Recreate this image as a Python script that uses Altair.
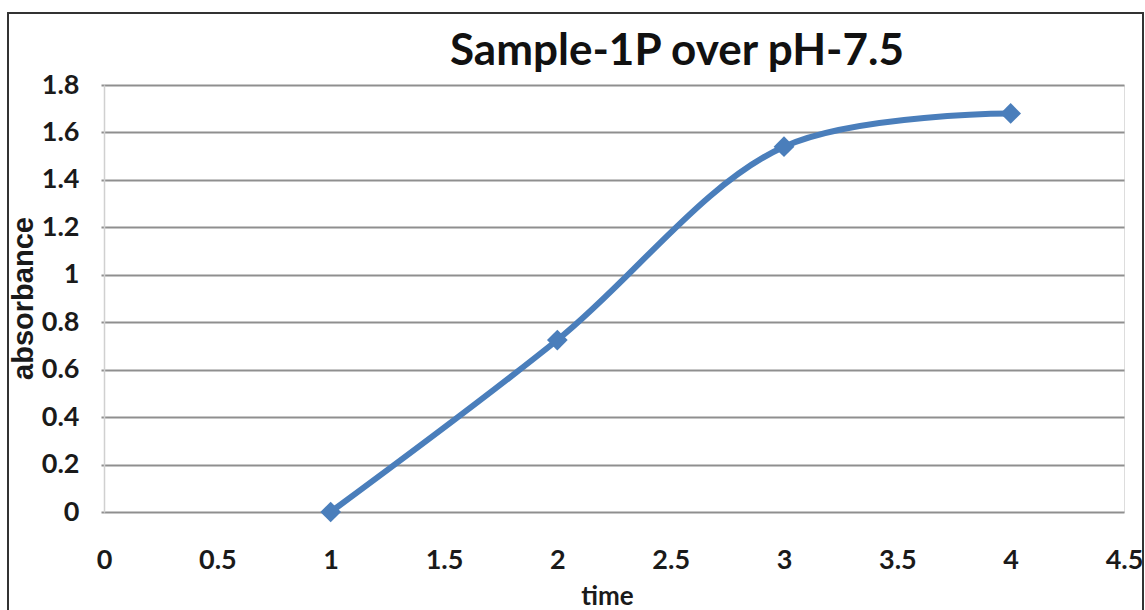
import altair as alt
import pandas as pd

# Absorbance readings of sample 1P at pH 7.5
time = [1, 2, 3, 4]
absorbance = [0.0, 0.725, 1.54, 1.68]

df = pd.DataFrame({"time": time, "absorbance": absorbance})

FONT = "Lato, Open Sans, sans-serif"
BLUE = "#4a7ebb"
W, H = 1020, 427

x = alt.X(
    "time:Q",
    scale=alt.Scale(domain=[0, 4.5], nice=False),
    axis=alt.Axis(
        title="time",
        values=[0, 0.5, 1, 1.5, 2, 2.5, 3, 3.5, 4, 4.5],
        labelExpr="format(datum.value, '~g')",
        grid=False,
        ticks=False,
        domain=False,
        labelFont=FONT,
        labelFontSize=27,
        labelFontWeight="bold",
        labelColor="#1a1a1a",
        labelPadding=35,
        labelFlush=False,
        titleFont=FONT,
        titleFontSize=26,
        titleFontWeight="bold",
        titleColor="#1a1a1a",
        titleX=503,
        titleY=84,
        titleBaseline="middle",
        titleAlign="center",
    ),
)

y = alt.Y(
    "absorbance:Q",
    scale=alt.Scale(domain=[0, 1.8], nice=False),
    axis=alt.Axis(
        title="absorbance",
        values=[0, 0.2, 0.4, 0.6, 0.8, 1, 1.2, 1.4, 1.6, 1.8],
        labelExpr="format(datum.value, '~g')",
        grid=True,
        gridColor="#8f8f8f",
        gridWidth=2,
        ticks=True,
        tickSize=3,
        tickColor="#8f8f8f",
        tickWidth=2,
        domain=True,
        domainColor="#d0d0d0",
        domainWidth=1.5,
        labelFont=FONT,
        labelFontSize=27,
        labelFontWeight="bold",
        labelColor="#1a1a1a",
        labelPadding=22,
        labelFlush=False,
        titleFont="Liberation Sans, Arial, sans-serif",
        titleFontSize=29,
        titleFontWeight="bold",
        titleColor="#1a1a1a",
        titleAngle=270,
        titleX=-81,
        titleY=213,
        titleBaseline="middle",
        titleAlign="center",
    ),
)

line = alt.Chart(df).mark_line(
    interpolate="catmull-rom", color=BLUE, strokeWidth=6
).encode(x=x, y=y)

points = alt.Chart(df).mark_point(
    shape="diamond", filled=True, size=430, color=BLUE, opacity=1
).encode(x="time:Q", y="absorbance:Q")

# Outer frame around the whole figure
frame = alt.Chart(df).mark_rect(
    fill=None, stroke="#333333", strokeWidth=1.5, clip=False
).encode(
    x=alt.value(-96), x2=alt.value(1039),
    y=alt.value(-72), y2=alt.value(540),
)

chart = (
    alt.layer(frame, line, points)
    .properties(
        width=W,
        height=H,
        title=alt.Title(
            "Sample-1P over pH-7.5",
            font=FONT,
            fontSize=44,
            fontWeight="bold",
            color="#111111",
            anchor="middle",
            dx=63,
            dy=68,
            offset=6,
        ),
        padding={"left": 104, "top": 85, "right": 21, "bottom": 98},
        autosize=alt.AutoSizeParams(type="none"),
    )
    .configure_view(stroke=None)
    .configure(background="white")
)

chart.save("out.html", embed_options={"renderer": "svg", "actions": False})
